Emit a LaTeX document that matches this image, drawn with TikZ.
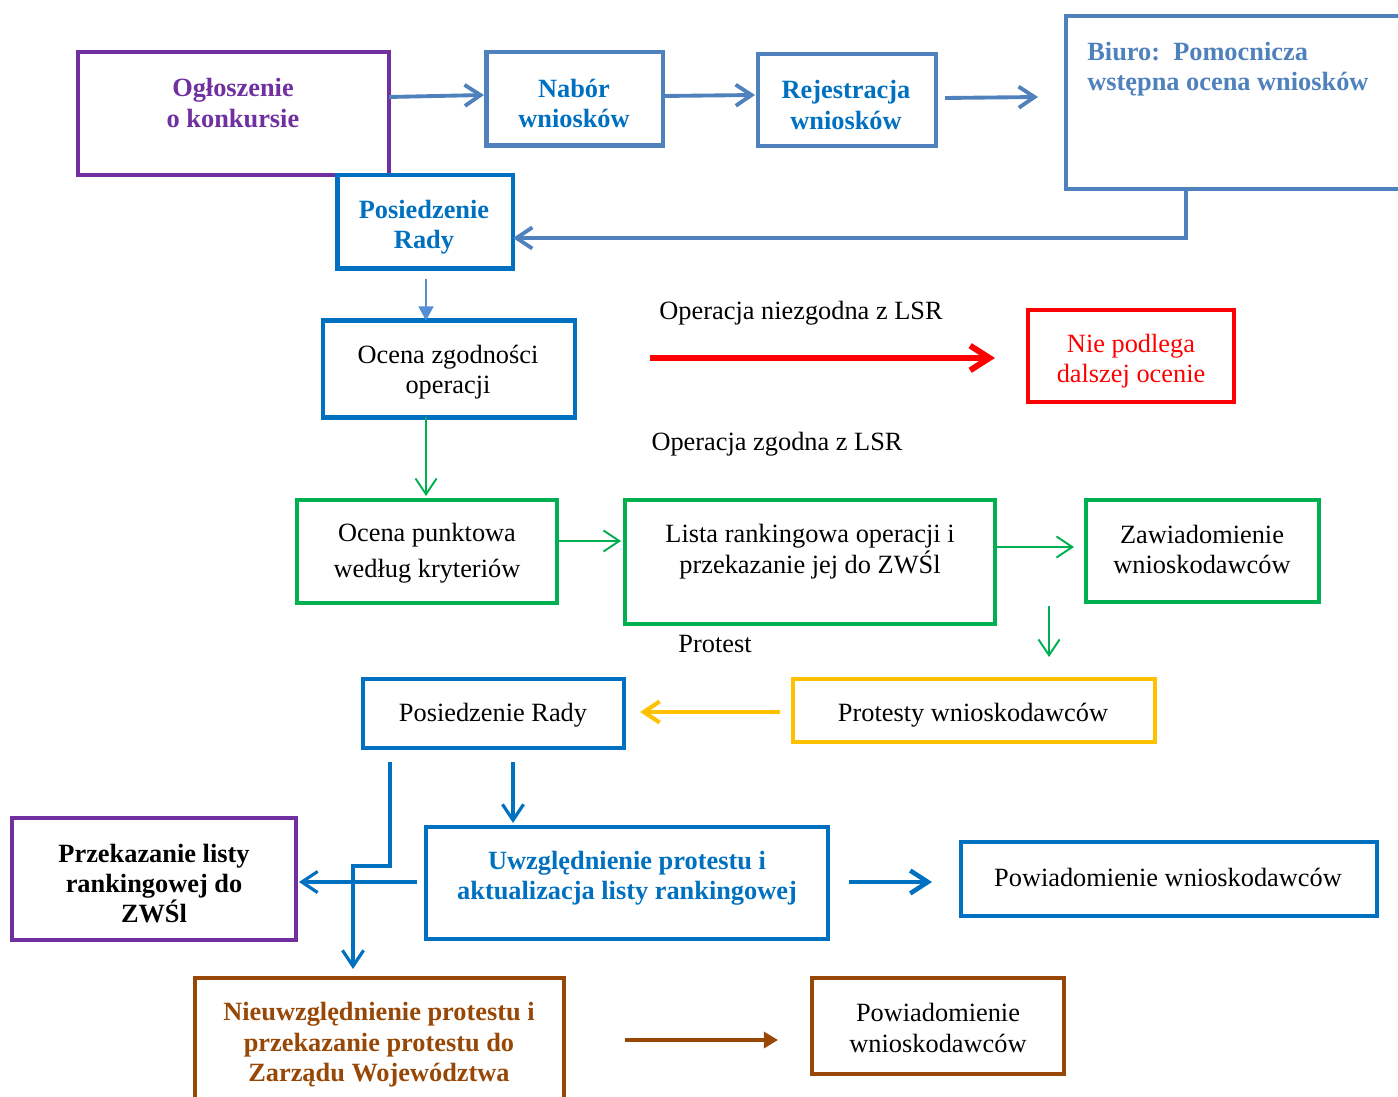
\documentclass[tikz,border=0pt]{standalone}
\usepackage{fontspec}
\setmainfont{Liberation Serif}
\usetikzlibrary{arrows.meta}
\definecolor{cpurple}{HTML}{7030A0}
\definecolor{clight}{HTML}{4F81BD}
\definecolor{cblue}{HTML}{0070C0}
\definecolor{cred}{HTML}{FF0000}
\definecolor{cgreen}{HTML}{00B050}
\definecolor{cyellow}{HTML}{FFC000}
\definecolor{cbrown}{HTML}{984806}
\definecolor{clb}{HTML}{558ED5}
\begin{document}
\begin{tikzpicture}[x=0.02cm,y=-0.02cm,
  box/.style={draw=#1,line width=2.8pt,rectangle,inner sep=0pt,outer sep=0pt},
  txt/.style={align=center,inner sep=0pt,font=\fontsize{15}{17.3}\selectfont},
  btxt/.style={align=center,inner sep=0pt,font=\fontsize{15}{17.3}\selectfont\bfseries},
  barb/.style={-{Straight Barb[length=9pt,width=12pt]}},
  lbarrow/.style={barb,draw=clight,line width=2.2pt},
  garrow/.style={barb,draw=cgreen,line width=1.1pt},
  barrow/.style={barb,draw=cblue,line width=1.8pt},
]
\useasboundingbox (0,0) rectangle (1398,1097);

% boxes
\node[box=cpurple,minimum width=311*0.02cm,minimum height=123*0.02cm] (ogl) at (233.5,113.5) {};
\node[box=clight,minimum width=176.5*0.02cm,minimum height=93.5*0.02cm] (nab) at (574.75,98.75) {};
\node[box=clight,minimum width=178*0.02cm,minimum height=92*0.02cm] (rej) at (847,100) {};
\node[box=clight,minimum width=337*0.02cm,minimum height=173*0.02cm] (biuro) at (1234.5,102.5) {};
\node[box=cblue,minimum width=175.5*0.02cm,minimum height=93.5*0.02cm] (pos1) at (425.25,221.75) {};
\node[box=cblue,minimum width=252*0.02cm,minimum height=97*0.02cm] (oc) at (449,369) {};
\node[box=cred,minimum width=206*0.02cm,minimum height=92*0.02cm] (nie) at (1131,356) {};
\node[box=cgreen,minimum width=260*0.02cm,minimum height=103*0.02cm] (op) at (427,551.5) {};
\node[box=cgreen,minimum width=370*0.02cm,minimum height=124*0.02cm] (lista) at (810,562) {};
\node[box=cgreen,minimum width=233*0.02cm,minimum height=102*0.02cm] (zaw) at (1202.5,551) {};
\node[box=cblue,minimum width=261*0.02cm,minimum height=69*0.02cm] (pos2) at (493.5,713.5) {};
\node[box=cyellow,minimum width=362*0.02cm,minimum height=63*0.02cm] (prot) at (974,710.5) {};
\node[box=cpurple,minimum width=284*0.02cm,minimum height=122*0.02cm] (prz) at (154,879) {};
\node[box=cblue,minimum width=402*0.02cm,minimum height=112*0.02cm] (uw) at (627,883) {};
\node[box=cblue,minimum width=416*0.02cm,minimum height=74*0.02cm] (pow1) at (1169,879) {};
\node[box=cbrown,minimum width=369*0.02cm,minimum height=127*0.02cm] (nieuw) at (379.5,1041.5) {};
\node[box=cbrown,minimum width=252*0.02cm,minimum height=96*0.02cm] (pow2) at (938,1026) {};

% texts
\node[btxt,text=cpurple] (togl) at (233,103) {Ogłoszenie\\o konkursie};
\node[btxt,text=cblue] (tnab) at (574,103.5) {Nabór\\wniosków};
\node[btxt,text=cblue] (trej) at (846,105) {Rejestracja\\wniosków};
\node[btxt,text=clight,align=left,anchor=west] (tbiuro) at (1087,69) {Biuro:\ \ Pomocnicza\\wstępna ocena wniosków};
\node[btxt,text=cblue] (tpos1) at (424,227) {Posiedzenie\\Rady};
\node[txt] (toc) at (448,372) {Ocena zgodności\\operacji};
\node[txt,text=cred] (tnie) at (1131,361) {Nie podlega\\dalszej ocenie};
\node[txt] (tniez) at (801,313.5) {Operacja niezgodna z LSR};
\node[txt] (tzg) at (777,444.5) {Operacja zgodna z LSR};
\node[txt] (top) at (427,553) {Ocena punktowa\\[3.4pt]według kryteriów};
\node[txt] (tlista) at (810,551.5) {Lista rankingowa operacji i\\przekazanie jej do ZWŚl};
\node[txt] (tzaw) at (1202,549.5) {Zawiadomienie\\wnioskodawców};
\node[txt] (tprotest) at (715,644) {Protest};
\node[txt] (tpos2) at (493,715) {Posiedzenie Rady};
\node[txt] (tprot) at (973,715) {Protesty wnioskodawców};
\node[btxt] (tprz) at (154,883.5) {Przekazanie listy\\rankingowej do\\ZWŚl};
\node[btxt,text=cblue] (tuw) at (627,878.5) {Uwzględnienie protestu i\\aktualizacja listy rankingowej};
\node[txt] (tpow1) at (1168,877.5) {Powiadomienie wnioskodawców};
\node[btxt,text=cbrown] (tnieuw) at (379,1045) {Nieuwzględnienie protestu i\\przekazanie protestu do\\Zarządu Województwa};
\node[txt] (tpow2) at (938,1028) {Powiadomienie\\wnioskodawców};

% free ends
\coordinate (a1) at (390,97);
\coordinate (a1e) at (484,95);
\coordinate (a2) at (664,96);
\coordinate (a2e) at (755,95);
\coordinate (a3) at (945,98);
\coordinate (a3e) at (1038,97);
\coordinate (k1) at (1186,238);
\coordinate (p1) at (426,279);
\coordinate (r1) at (650,358);
\coordinate (r1e) at (995,358);
\coordinate (g1) at (426,0);
\coordinate (g1e) at (426,496);
\coordinate (g2) at (0,541);
\coordinate (g2e) at (621,541);
\coordinate (g3) at (0,547);
\coordinate (g3e) at (1074,547);
\coordinate (g4) at (1049,606);
\coordinate (g4e) at (1049,657);
\coordinate (y1) at (780,712);
\coordinate (y1e) at (640,712);
\coordinate (b1) at (390,762);
\coordinate (b1m) at (390,866);
\coordinate (b1n) at (353,866);
\coordinate (b1e) at (353,969);
\coordinate (b2) at (513,762);
\coordinate (b2e) at (513,823);
\coordinate (b3) at (417,882);
\coordinate (b3e) at (299,882);
\coordinate (b4) at (849,882);
\coordinate (b4e) at (932,882);
\coordinate (br) at (625,1040);
\coordinate (bre) at (778,1040);

% connectors
\draw[lbarrow] (ogl.east |- a1) -- (a1e);
\draw[lbarrow] (nab.east |- a2) -- (a2e);
\draw[lbarrow] (a3) -- (a3e);
\draw[lbarrow] (biuro.south -| k1) -- (k1) -- (pos1.east |- k1);
\draw[draw=clb,line width=1.1pt,-{Triangle[length=8pt,width=8.5pt]}] (p1) -- (p1 |- oc.north);
\draw[draw=cred,line width=3.4pt,-{Straight Barb[length=11pt,width=14pt]}] (r1) -- (r1e);
\draw[garrow] (oc.south -| g1) -- (g1e);
\draw[garrow] (op.east |- g2) -- (g2e);
\draw[garrow] (lista.east |- g3) -- (g3e);
\draw[garrow] (g4) -- (g4e);
\draw[barb,draw=cyellow,line width=2.4pt] (y1) -- (y1e);
\draw[barrow] (b1) -- (b1m) -- (b1n) -- (b1e);
\draw[barrow] (b2) -- (b2e);
\draw[barrow] (b3) -- (b3e);
\draw[barrow,line width=2.6pt,-{Straight Barb[length=10pt,width=13pt]}] (b4) -- (b4e);
\draw[draw=cbrown,line width=2.2pt,-{Triangle[length=8pt,width=9pt]}] (br) -- (bre);
\end{tikzpicture}
\end{document}
